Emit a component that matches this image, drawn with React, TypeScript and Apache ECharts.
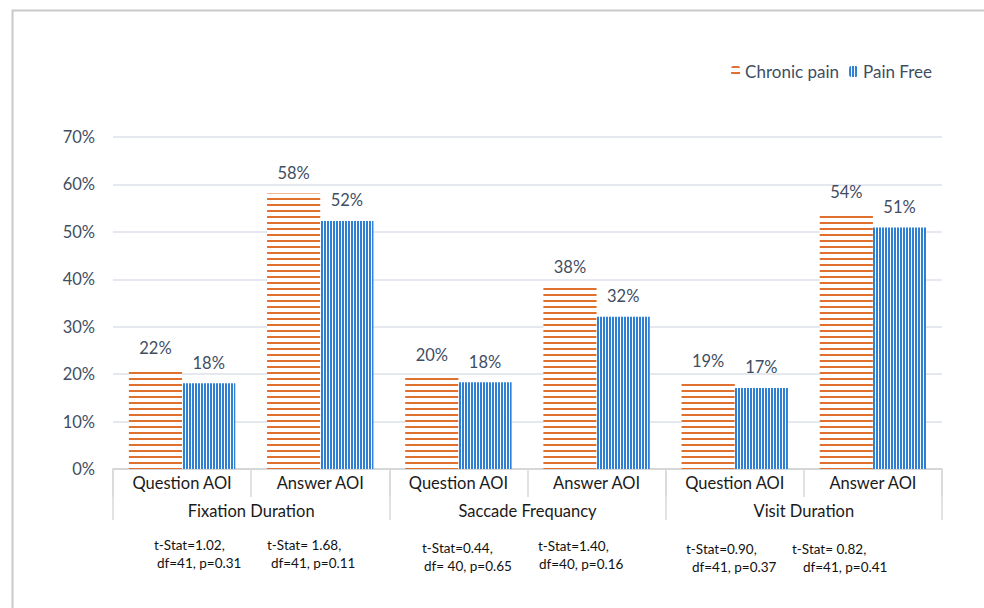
import React, { useEffect, useRef } from "react";
import * as echarts from "echarts";

const categories = ["Question AOI", "Answer AOI", "Question AOI", "Answer AOI", "Question AOI", "Answer AOI"];
const groups = ["Fixation Duration", "Saccade Frequancy", "Visit Duration"];
const seriesNames = ["Chronic pain", "Pain Free"];
const chronicPain = [21.1, 58.1, 19.7, 38.2, 18.5, 54.0];
const painFree = [18.1, 52.3, 18.3, 32.1, 17.1, 50.9];
const chronicLabels = ["22%", "58%", "20%", "38%", "19%", "54%"];
const painFreeLabels = ["18%", "52%", "18%", "32%", "17%", "51%"];
const yMin = 0;
const yMax = 70;
const yStep = 10;
const statLines = [
  ["t-Stat=1.02,", "df=41, p=0.31"],
  ["t-Stat= 1.68,", "df=41, p=0.11"],
  ["t-Stat=0.44,", "df= 40, p=0.65"],
  ["t-Stat=1.40,", "df=40, p=0.16"],
  ["t-Stat=0.90,", "df=41, p=0.37"],
  ["t-Stat= 0.82,", "df=41, p=0.41"],
];

// layout for the annotation texts (left x of line1, line2; y of line1, line2)
const statLayout = [
  [154, 157, 545, 563],
  [267, 271, 545, 563],
  [422, 424, 548, 566],
  [538, 539, 546, 564],
  [686, 692, 549, 567],
  [792, 803, 549, 567],
];

const FONT = "Lato, 'Open Sans', sans-serif";
const SLATE = "#3F4E63";
const ORANGE = "#E0702E";
const BLUE = "#2F80D2";

function makePattern(dir: "h" | "v", color: string, period: number, thick: number) {
  const c = document.createElement("canvas");
  const w = dir === "h" ? 4 : period;
  const h = dir === "h" ? period : 4;
  c.width = w;
  c.height = h;
  const ctx = c.getContext("2d")!;
  ctx.fillStyle = "#ffffff";
  ctx.fillRect(0, 0, w, h);
  ctx.fillStyle = color;
  if (dir === "h") ctx.fillRect(0, 0, w, thick);
  else ctx.fillRect(0, 0, thick, h);
  return { image: c.toDataURL(), repeat: "repeat", imageWidth: w, imageHeight: h } as any;
}

export default function App() {
  const ref = useRef<HTMLDivElement>(null);
  useEffect(() => {
    document.body.style.margin = "0";
    const chart = echarts.init(ref.current!, null, { renderer: "svg" });
    const orangePat = makePattern("h", ORANGE, 6, 2);
    const bluePat = makePattern("v", BLUE, 3, 2);

    const graphics: any[] = [
      {
        type: "rect",
        left: 10,
        top: 8,
        shape: { x: 0, y: 0, width: 1000, height: 700 },
        style: { fill: "none", stroke: "#C9C9C9", lineWidth: 2 },
        silent: true,
      },
    ];
    statLines.forEach((lines, i) => {
      const L = statLayout[i];
      graphics.push({
        type: "text",
        x: L[0],
        y: L[2],
        style: { text: lines[0], fill: "#111", font: `13.5px ${FONT}`, textVerticalAlign: "middle", verticalAlign: "middle" },
      });
      graphics.push({
        type: "text",
        x: L[1],
        y: L[3],
        style: { text: lines[1], fill: "#111", font: `13.5px ${FONT}`, textVerticalAlign: "middle", verticalAlign: "middle" },
      });
    });

    chart.setOption({
      animation: false,
      backgroundColor: "#ffffff",
      textStyle: { fontFamily: FONT },
      grid: { left: 113, right: 42, top: 137, bottom: 139, containLabel: false },
      legend: {
        right: 47,
        top: 58,
        itemWidth: 9,
        itemHeight: 11,
        itemGap: 10,
        textStyle: { color: SLATE, fontSize: 17, fontFamily: FONT },
        data: seriesNames,
      },
      xAxis: [
        {
          type: "category",
          data: categories,
          axisLine: { show: true, lineStyle: { color: "#D0D0D0", width: 1.5 } },
          axisTick: { show: true, interval: 0, length: 28, lineStyle: { color: "#D9D9D9", width: 1.5 } },
          axisLabel: { interval: 0, margin: 5, color: "#1a1a1a", fontSize: 16.5, fontFamily: FONT },
        },
        {
          type: "category",
          data: groups,
          position: "bottom",
          axisLine: { show: false },
          axisTick: { show: true, interval: 0, length: 51, lineStyle: { color: "#D9D9D9", width: 1.5 } },
          axisLabel: { interval: 0, margin: 33, color: "#1a1a1a", fontSize: 16.5, fontFamily: FONT },
        },
      ],
      yAxis: {
        type: "value",
        min: yMin,
        max: yMax,
        interval: yStep,
        axisLine: { show: false },
        axisTick: { show: false },
        axisLabel: { formatter: "{value}%", color: SLATE, fontSize: 16.5, margin: 18, fontFamily: FONT },
        splitLine: { lineStyle: { color: "#DCE2EA", width: 1.5 } },
      },
      series: [
        {
          name: seriesNames[0],
          type: "bar",
          xAxisIndex: 0,
          data: chronicPain,
          barGap: "0%",
          barCategoryGap: "23%",
          itemStyle: { color: orangePat },
          label: {
            show: true,
            position: "top",
            distance: 12,
            color: SLATE,
            fontSize: 16.5,
            fontFamily: FONT,
            formatter: (p: any) => chronicLabels[p.dataIndex],
          },
        },
        {
          name: seriesNames[1],
          type: "bar",
          xAxisIndex: 0,
          data: painFree,
          barGap: "0%",
          barCategoryGap: "23%",
          itemStyle: { color: bluePat },
          label: {
            show: true,
            position: "top",
            distance: 12,
            color: SLATE,
            fontSize: 16.5,
            fontFamily: FONT,
            formatter: (p: any) => painFreeLabels[p.dataIndex],
          },
        },
      ],
      graphic: graphics,
    });
    return () => chart.dispose();
  }, []);
  return <div ref={ref} style={{ position: "fixed", left: 0, top: 0, width: 984, height: 608 }} />;
}
